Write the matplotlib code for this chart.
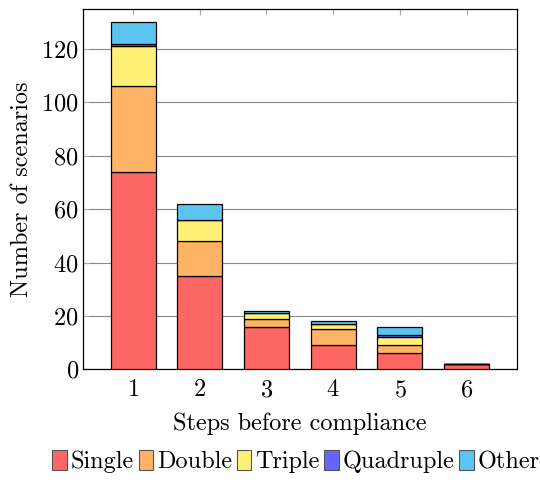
import matplotlib
matplotlib.use("Agg")
from matplotlib import pyplot as plt
from matplotlib.patches import Patch

plt.rcParams['font.family'] = 'serif'
plt.rcParams['font.serif'] = ['cmr10', 'DejaVu Serif']
plt.rcParams['mathtext.fontset'] = 'cm'
plt.rcParams['axes.formatter.use_mathtext'] = True

steps = [1, 2, 3, 4, 5, 6]
single = [74, 35, 16, 9, 6, 2]
double = [32, 13, 3, 6, 3, 0]
triple = [15, 8, 2, 2, 3, 0]
quadruple = [1, 0, 0, 0, 1, 0]
other = [8, 6, 1, 1, 3, 0]

names = ['Single', 'Double', 'Triple', 'Quadruple', 'Other']
series = [single, double, triple, quadruple, other]
colors = ['#ff6666', '#ffb366', '#fff176', '#6666ff', '#5bc4f0']

fs = 17.5
fig = plt.figure(figsize=(5.4, 4.86), dpi=100)
ax = fig.add_axes([0.1537, 0.2401, 0.8032, 0.7414])

bottom = [0] * len(steps)
for vals, c in zip(series, colors):
    ax.bar(steps, vals, bottom=bottom, width=0.675, color=c,
           edgecolor='black', linewidth=0.9, zorder=3)
    bottom = [b + v for b, v in zip(bottom, vals)]

ax.set_xlim(0.25, 6.75)
ax.set_ylim(0, 135)
ax.set_xticks(steps)
ax.set_yticks(range(0, 121, 20))
ax.yaxis.grid(True, color='#888888', linewidth=0.8, zorder=0)
ax.tick_params(axis='both', direction='in', color='#aaaaaa', labelsize=fs,
               top=True, right=True, length=4)
ax.tick_params(axis='x', pad=7)
ax.tick_params(axis='y', pad=3)
for s in ax.spines.values():
    s.set_linewidth(0.9)

ax.set_xlabel('Steps before compliance', fontsize=fs, labelpad=8)
ax.set_ylabel('Number of scenarios', fontsize=fs, labelpad=6)

handles = [Patch(facecolor=c, edgecolor='#555555', linewidth=0.8) for c in colors]
fig.legend(handles, names, loc='center', bbox_to_anchor=(0.548, 0.05), ncol=5,
           frameon=False, fontsize=fs, handlelength=0.6, handleheight=0.85,
           handletextpad=0.15, columnspacing=0.2, borderaxespad=0)

fig.savefig('out.png', dpi=100)
